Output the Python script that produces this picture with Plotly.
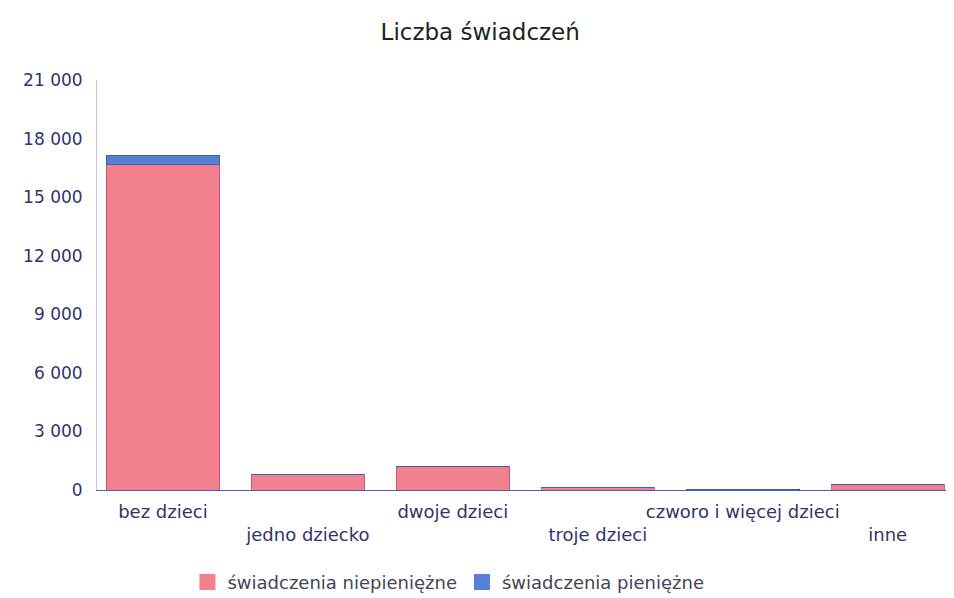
import plotly.graph_objects as go

categories = ["bez dzieci", "jedno dziecko", "dwoje dzieci", "troje dzieci",
              "czworo i więcej dzieci", "inne"]
niepieniezne = [16650, 800, 1220, 150, 40, 260]
pieniezne = [480, 0, 0, 0, 0, 0]
y_ticks = [0, 3000, 6000, 9000, 12000, 15000, 18000, 21000]
series_names = ["świadczenia niepieniężne", "świadczenia pieniężne"]

tick_text = [c if i % 2 == 0 else "<br>" + c for i, c in enumerate(categories)]

pink = "#f3808e"
blue = "#5680d8"
line_cols = ["#c9566a", "#c9566a", "#c9566a", "#d86a7c", "#111111", "#d86a7c"]

FONT = "DejaVu Sans, Verdana, sans-serif"

fig = go.Figure()
fig.add_trace(go.Bar(
    x=categories, y=niepieniezne, name=series_names[0], showlegend=False,
    marker=dict(color=pink, line=dict(color=line_cols, width=1)),
))
fig.add_trace(go.Bar(
    x=categories, y=pieniezne, name=series_names[1], showlegend=False,
    marker=dict(color=blue, line=dict(color="#3d5fb0", width=1)),
))
# legend entries with larger square swatches
for name, col in zip(series_names, [pink, blue]):
    fig.add_trace(go.Scatter(
        x=[None], y=[None], mode="markers", name=name,
        marker=dict(symbol="square", size=16, color=col),
    ))

fig.update_layout(
    barmode="stack",
    bargap=0.22,
    width=954, height=598,
    margin=dict(l=89, r=12, t=72, b=116, autoexpand=False),
    paper_bgcolor="white", plot_bgcolor="white",
    separators=", ",
    font=dict(family=FONT, color="#33336b", size=17),
    title=dict(text="Liczba świadczeń", x=0.495, xanchor="center", y=0.96, yanchor="middle",
               font=dict(family=FONT, size=23, color="#222222")),
    legend=dict(orientation="h", x=0.412, xanchor="center", y=-0.225, yanchor="middle",
                font=dict(family=FONT, size=18, color="#444455"), traceorder="normal",
                itemwidth=30),
    showlegend=True,
)
fig.update_xaxes(
    tickmode="array", tickvals=categories, ticktext=tick_text,
    range=[-0.455, 5.43], tickangle=0, automargin=False,
    showgrid=False, showline=True, linecolor="#4a5fb0", linewidth=1,
    ticks="", tickfont=dict(family=FONT, size=18, color="#33336b"),
    ticklabelstandoff=5,
)
fig.update_yaxes(
    range=[0, 21000], tickvals=y_ticks, tickformat=",d", automargin=False,
    showgrid=False, showline=True, linecolor="#c8c8d0", linewidth=1,
    ticks="", zeroline=False, tickfont=dict(family=FONT, size=17, color="#33336b"),
    ticklabelstandoff=10,
)

fig.write_html("out.html")
